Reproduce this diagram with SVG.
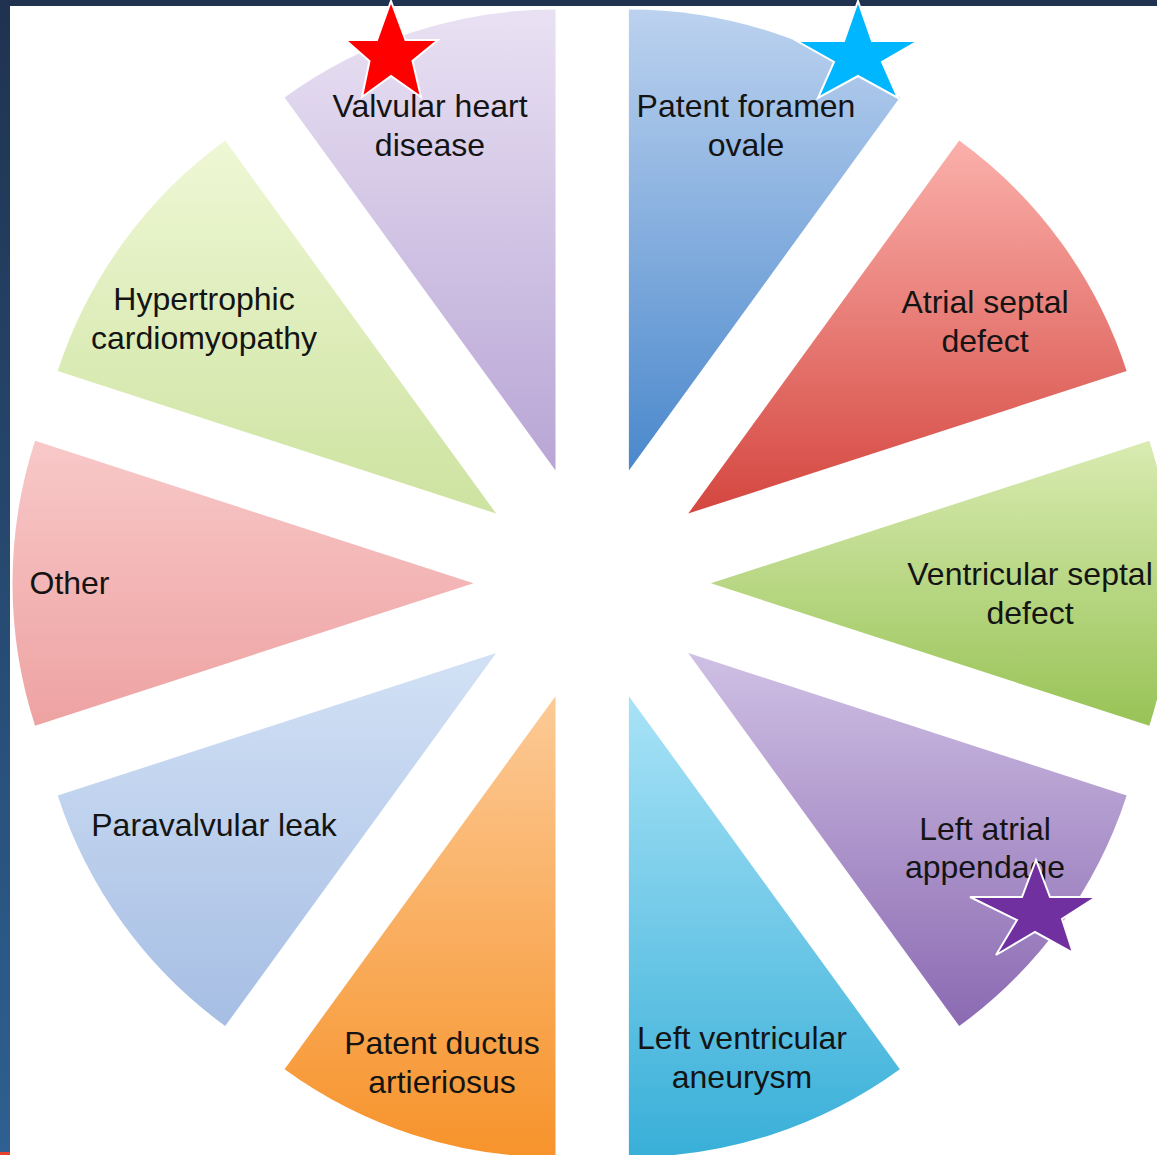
<svg xmlns="http://www.w3.org/2000/svg" width="1157" height="1155" viewBox="0 0 1157 1155">
<defs>
<style>
.lbl{font-family:"Liberation Sans",Arial,Helvetica,sans-serif;font-size:32px;fill:#141414;text-anchor:middle}
.star{stroke:#ffffff;stroke-width:2;stroke-linejoin:miter}
</style>
<linearGradient id="gBand" x1="0" y1="0" x2="0" y2="1"><stop offset="0" stop-color="#1f3350"/><stop offset="1" stop-color="#2e6091"/></linearGradient>
<linearGradient id="g0" x1="0" y1="0" x2="0" y2="1"><stop offset="0" stop-color="#bcd2ef"/><stop offset="1" stop-color="#4a88cc"/></linearGradient>
<linearGradient id="g1" x1="0" y1="0" x2="0" y2="1"><stop offset="0" stop-color="#fbb0ab"/><stop offset="1" stop-color="#d4463f"/></linearGradient>
<linearGradient id="g2" x1="0" y1="0" x2="0" y2="1"><stop offset="0" stop-color="#d9ebb2"/><stop offset="1" stop-color="#98c356"/></linearGradient>
<linearGradient id="g3" x1="0" y1="0" x2="0" y2="1"><stop offset="0" stop-color="#cfc0e4"/><stop offset="1" stop-color="#8b6ab2"/></linearGradient>
<linearGradient id="g4" x1="0" y1="0" x2="0" y2="1"><stop offset="0" stop-color="#a9e3f7"/><stop offset="1" stop-color="#38afd8"/></linearGradient>
<linearGradient id="g5" x1="0" y1="0" x2="0" y2="1"><stop offset="0" stop-color="#fcca96"/><stop offset="1" stop-color="#f7932b"/></linearGradient>
<linearGradient id="g6" x1="0" y1="0" x2="0" y2="1"><stop offset="0" stop-color="#d2e1f5"/><stop offset="1" stop-color="#a6bee4"/></linearGradient>
<linearGradient id="g7" x1="0" y1="0" x2="0" y2="1"><stop offset="0" stop-color="#f8c8c8"/><stop offset="1" stop-color="#eea2a2"/></linearGradient>
<linearGradient id="g8" x1="0" y1="0" x2="0" y2="1"><stop offset="0" stop-color="#eff7d5"/><stop offset="1" stop-color="#cde3a0"/></linearGradient>
<linearGradient id="g9" x1="0" y1="0" x2="0" y2="1"><stop offset="0" stop-color="#e9e1f3"/><stop offset="1" stop-color="#b8a5d5"/></linearGradient>
</defs>

<rect x="0" y="0" width="1157" height="1155" fill="#ffffff"/>
<rect x="0" y="0" width="1157" height="6" fill="#1f3350"/>
<rect x="0" y="0" width="10" height="1155" fill="url(#gBand)"/>
<rect x="0" y="1152" width="10" height="3" fill="#e8412c"/>

<g id="pfo">
<path d="M628.88,470.41 L628.88,9.41 A461,461 0 0 1 899.85,97.45 Z" fill="url(#g0)"/>
<text class="lbl" x="746" y="117">Patent foramen</text>
<text class="lbl" x="746" y="156">ovale</text>
</g>
<g id="asd">
<path d="M688.23,513.53 L959.2,140.57 A461,461 0 0 1 1126.67,371.07 Z" fill="url(#g1)"/>
<text class="lbl" x="985" y="313">Atrial septal</text>
<text class="lbl" x="985" y="352">defect</text>
</g>
<g id="vsd">
<path d="M710.9,583.3 L1149.34,440.84 A461,461 0 0 1 1149.34,725.76 Z" fill="url(#g2)"/>
<text class="lbl" x="1030" y="585">Ventricular septal</text>
<text class="lbl" x="1030" y="624">defect</text>
</g>
<g id="laa">
<path d="M688.23,653.07 L1126.67,795.53 A461,461 0 0 1 959.2,1026.03 Z" fill="url(#g3)"/>
<text class="lbl" x="985" y="840">Left atrial</text>
<text class="lbl" x="985" y="878">appendage</text>
</g>
<g id="lva">
<path d="M628.88,696.19 L899.85,1069.15 A461,461 0 0 1 628.88,1157.19 Z" fill="url(#g4)"/>
<text class="lbl" x="742" y="1049">Left ventricular</text>
<text class="lbl" x="742" y="1088">aneurysm</text>
</g>
<g id="pda">
<path d="M555.52,696.19 L555.52,1157.19 A461,461 0 0 1 284.55,1069.15 Z" fill="url(#g5)"/>
<text class="lbl" x="442" y="1054">Patent ductus</text>
<text class="lbl" x="442" y="1093">artieriosus</text>
</g>
<g id="paravalvular">
<path d="M496.17,653.07 L225.2,1026.03 A461,461 0 0 1 57.73,795.53 Z" fill="url(#g6)"/>
<text class="lbl" x="214" y="836">Paravalvular leak</text>
</g>
<g id="other">
<path d="M473.5,583.3 L35.06,725.76 A461,461 0 0 1 35.06,440.84 Z" fill="url(#g7)"/>
<text class="lbl" x="69.5" y="594">Other</text>
</g>
<g id="hcm">
<path d="M496.17,513.53 L57.73,371.07 A461,461 0 0 1 225.2,140.57 Z" fill="url(#g8)"/>
<text class="lbl" x="204" y="310">Hypertrophic</text>
<text class="lbl" x="204" y="349">cardiomyopathy</text>
</g>
<g id="valvular">
<path d="M555.52,470.41 L284.55,97.45 A461,461 0 0 1 555.52,9.41 Z" fill="url(#g9)"/>
<text class="lbl" x="430" y="117">Valvular heart</text>
<text class="lbl" x="430" y="156">disease</text>
</g>

<g id="stars">
<polygon class="star" fill="#ff0000" points="391,1 405.5,40 438,40 412.5,61 421,97 391,76 362,97 369.5,61 345.5,40 377,40"/>
<polygon class="star" fill="#00b6ff" points="858,1 872,41 918,41 882,62 898,98 858,76 818,98 834,62 797,41 844,41"/>
<polygon class="star" fill="#7030a0" points="1036,860 1050,897 1096,897 1062,919 1073,953 1035,932 996,955 1017,920 970,897 1022,897"/>
</g>
</svg>
